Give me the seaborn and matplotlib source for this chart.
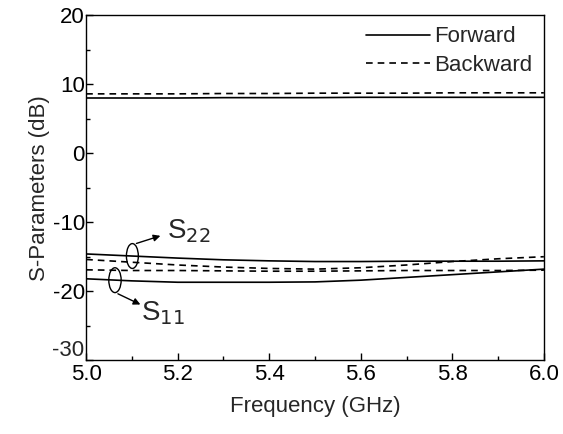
import numpy as np
import pandas as pd
import matplotlib
matplotlib.use('Agg')
import matplotlib.pyplot as plt
from matplotlib.patches import Ellipse
from matplotlib.ticker import MultipleLocator, FormatStrFormatter, FuncFormatter
import seaborn as sns

freq = [5.0, 5.1, 5.2, 5.3, 5.4, 5.5, 5.6, 5.7, 5.8, 5.9, 6.0]

s21_fwd = [8.0, 8.0, 8.0, 8.05, 8.05, 8.05, 8.1, 8.1, 8.1, 8.1, 8.1]
s21_bwd = [8.6, 8.6, 8.6, 8.65, 8.65, 8.7, 8.7, 8.7, 8.75, 8.75, 8.75]
s22_fwd = [-14.6, -14.9, -15.2, -15.45, -15.6, -15.7, -15.7, -15.65, -15.65, -15.65, -15.6]
s22_bwd = [-15.4, -15.8, -16.2, -16.5, -16.7, -16.8, -16.6, -16.2, -15.7, -15.3, -15.0]
s11_fwd = [-18.2, -18.5, -18.7, -18.7, -18.7, -18.65, -18.4, -18.0, -17.6, -17.2, -16.8]
s11_bwd = [-16.9, -17.0, -17.0, -17.05, -17.1, -17.1, -17.05, -17.0, -17.0, -17.0, -16.95]

series = {
    ('S21', 'Forward'): s21_fwd,
    ('S21', 'Backward'): s21_bwd,
    ('S22', 'Forward'): s22_fwd,
    ('S22', 'Backward'): s22_bwd,
    ('S11', 'Forward'): s11_fwd,
    ('S11', 'Backward'): s11_bwd,
}

rows = []
for (p, d), vals in series.items():
    for f, v in zip(freq, vals):
        rows.append({'freq': f, 'val': v, 'param': p + d, 'direction': d})
df = pd.DataFrame(rows)

sns.set_style('white')
plt.rcParams['font.family'] = ['Liberation Sans', 'DejaVu Sans']
plt.rcParams['axes.unicode_minus'] = False

fig, ax = plt.subplots(figsize=(5.63, 4.34), dpi=100)
fig.subplots_adjust(left=0.153, right=0.966, top=0.965, bottom=0.17)

sns.lineplot(data=df, x='freq', y='val', style='direction', units='param',
             estimator=None, color='black', lw=1.2,
             dashes={'Forward': '', 'Backward': (4, 3)},
             style_order=['Forward', 'Backward'], ax=ax)

ax.set_xlim(5.0, 6.0)
ax.set_ylim(-30, 20)
ax.xaxis.set_major_locator(MultipleLocator(0.2))
ax.xaxis.set_minor_locator(MultipleLocator(0.1))
ax.yaxis.set_major_locator(MultipleLocator(10))
ax.yaxis.set_minor_locator(MultipleLocator(5))
ax.xaxis.set_major_formatter(FormatStrFormatter('%.1f'))
# the bottom label (-30) is drawn separately, nudged up like in the original
ax.yaxis.set_major_formatter(FuncFormatter(lambda v, p: '' if v <= -30 else '%d' % v))
ax.tick_params(which='both', direction='in', bottom=True, left=True,
               top=False, right=False, labelsize=16, colors='black')
ax.tick_params(axis='x', pad=3)
ax.tick_params(axis='y', pad=1)
ax.tick_params(which='major', length=5, width=1)
ax.tick_params(which='minor', length=3, width=1)
for s in ax.spines.values():
    s.set_color('black')
    s.set_linewidth(1)

ax.annotate('-30', xy=(0, -30), xycoords=('axes fraction', 'data'),
            xytext=(-1.5, -0.5), textcoords='offset points',
            ha='right', va='bottom', fontsize=16)

ax.set_xlabel('Frequency (GHz)', fontsize=16, labelpad=8)
ax.set_ylabel('S-Parameters (dB)', fontsize=16, labelpad=2)

leg = ax.legend(loc='upper right', frameon=False, fontsize=16,
                handlelength=2.9, handletextpad=0.2, labelspacing=0.35,
                borderaxespad=0.1)

# annotations
ax.add_patch(Ellipse((5.101, -14.9), 0.026, 3.6, fill=False, ec='black', lw=1))
ax.add_patch(Ellipse((5.063, -18.4), 0.027, 3.6, fill=False, ec='black', lw=1))
ax.annotate('', xy=(5.168, -11.85), xytext=(5.104, -13.2),
            arrowprops=dict(arrowstyle='-|>', color='black', lw=1, mutation_scale=10))
ax.annotate('', xy=(5.124, -22.1), xytext=(5.064, -20.2),
            arrowprops=dict(arrowstyle='-|>', color='black', lw=1, mutation_scale=10))
ax.text(5.176, -11.3, r'S$_{22}$', fontsize=20, va='center', ha='left')
ax.text(5.12, -23.2, r'S$_{11}$', fontsize=20, va='center', ha='left')

fig.savefig('out.png', dpi=100)
